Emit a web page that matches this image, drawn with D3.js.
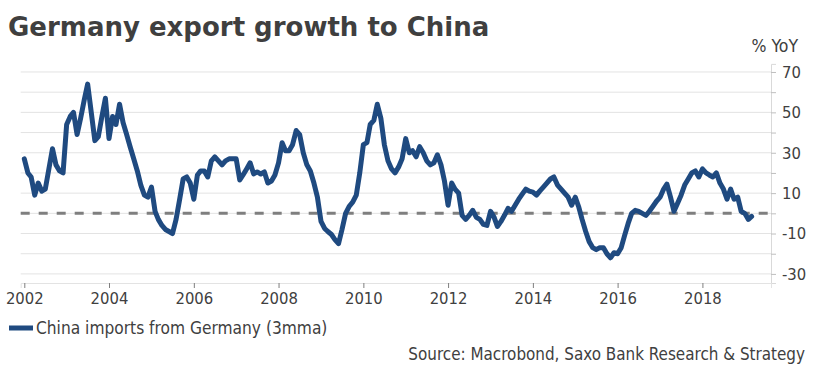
<!DOCTYPE html>
<html>
<head>
<meta charset="utf-8">
<script src="https://cdn.jsdelivr.net/npm/d3@7"></script>
<style>
  html, body { margin: 0; padding: 0; background: #fff; }
  svg { display: block; }
  .lbl { font-family: 'DejaVu Sans Condensed', 'DejaVu Sans', sans-serif; font-stretch: condensed; }
</style>
</head>
<body>
<div id="chart-container"></div>
<script>
// Monthly readings, Jan 2002 .. Mar 2019

const months = [
  '2002-01', '2002-02', '2002-03', '2002-04', '2002-05', '2002-06', '2002-07', '2002-08', '2002-09', '2002-10', '2002-11', '2002-12',
  '2003-01', '2003-02', '2003-03', '2003-04', '2003-05', '2003-06', '2003-07', '2003-08', '2003-09', '2003-10', '2003-11', '2003-12',
  '2004-01', '2004-02', '2004-03', '2004-04', '2004-05', '2004-06', '2004-07', '2004-08', '2004-09', '2004-10', '2004-11', '2004-12',
  '2005-01', '2005-02', '2005-03', '2005-04', '2005-05', '2005-06', '2005-07', '2005-08', '2005-09', '2005-10', '2005-11', '2005-12',
  '2006-01', '2006-02', '2006-03', '2006-04', '2006-05', '2006-06', '2006-07', '2006-08', '2006-09', '2006-10', '2006-11', '2006-12',
  '2007-01', '2007-02', '2007-03', '2007-04', '2007-05', '2007-06', '2007-07', '2007-08', '2007-09', '2007-10', '2007-11', '2007-12',
  '2008-01', '2008-02', '2008-03', '2008-04', '2008-05', '2008-06', '2008-07', '2008-08', '2008-09', '2008-10', '2008-11', '2008-12',
  '2009-01', '2009-02', '2009-03', '2009-04', '2009-05', '2009-06', '2009-07', '2009-08', '2009-09', '2009-10', '2009-11', '2009-12',
  '2010-01', '2010-02', '2010-03', '2010-04', '2010-05', '2010-06', '2010-07', '2010-08', '2010-09', '2010-10', '2010-11', '2010-12',
  '2011-01', '2011-02', '2011-03', '2011-04', '2011-05', '2011-06', '2011-07', '2011-08', '2011-09', '2011-10', '2011-11', '2011-12',
  '2012-01', '2012-02', '2012-03', '2012-04', '2012-05', '2012-06', '2012-07', '2012-08', '2012-09', '2012-10', '2012-11', '2012-12',
  '2013-01', '2013-02', '2013-03', '2013-04', '2013-05', '2013-06', '2013-07', '2013-08', '2013-09', '2013-10', '2013-11', '2013-12',
  '2014-01', '2014-02', '2014-03', '2014-04', '2014-05', '2014-06', '2014-07', '2014-08', '2014-09', '2014-10', '2014-11', '2014-12',
  '2015-01', '2015-02', '2015-03', '2015-04', '2015-05', '2015-06', '2015-07', '2015-08', '2015-09', '2015-10', '2015-11', '2015-12',
  '2016-01', '2016-02', '2016-03', '2016-04', '2016-05', '2016-06', '2016-07', '2016-08', '2016-09', '2016-10', '2016-11', '2016-12',
  '2017-01', '2017-02', '2017-03', '2017-04', '2017-05', '2017-06', '2017-07', '2017-08', '2017-09', '2017-10', '2017-11', '2017-12',
  '2018-01', '2018-02', '2018-03', '2018-04', '2018-05', '2018-06', '2018-07', '2018-08', '2018-09', '2018-10', '2018-11', '2018-12',
  '2019-01', '2019-02', '2019-03',
]

const importsGrowth = [
  27, 20, 18, 9, 15, 11, 12, 22, 32, 24, 21, 20,
  44, 48, 50, 39, 47, 56, 64, 50, 36, 38, 48, 57,
  37, 48, 44, 54, 45, 39, 33, 27, 21, 14, 9, 8,
  13, 1, -3, -6, -8, -9, -10, -3, 7, 17, 18, 15,
  7, 19, 21, 21, 18, 26, 28, 26, 24, 26, 27, 27,
  27, 16.5, 19, 22, 25, 19.5, 20.5, 19.5, 20.5, 15, 16, 19,
  25, 35, 31, 31, 34, 41, 39, 30, 24, 21, 15, 8,
  -4, -7.5, -9, -10.5, -13, -15, -8, 0, 3.5, 5.5, 9, 20,
  34, 35, 44, 46, 54, 47, 34, 26, 22, 20, 23, 27,
  37, 30, 31, 28, 33, 30, 26, 24, 25, 29, 24, 16,
  4, 15, 12, 10, -1, -3, -1, 1.5, -2, -3, -5.5, -6,
  1, -2, -6.5, -4, -1, 2.5, 1, 4, 7, 9.5, 12, 11,
  10.5, 9, 11, 13, 15, 17, 18, 14, 12, 10, 8, 4,
  8, 3, -3, -9, -14, -17, -18, -17, -17, -20, -22, -19.5,
  -20, -17, -11, -5, 0, 1.5, 1, 0, -1, 1, 3.5, 6,
  8, 12, 14.5, 8, 1, 5, 9, 14, 17, 20, 21, 18,
  22, 20, 19, 18, 20, 15, 12, 7, 12, 7, 8, 1,
  0, -3, -1.5,
]

const yTicks = [-30, -20, -10, 0, 10, 20, 30, 40, 50, 60, 70]
const yLabels = [-30, -10, 10, 30, 50, 70]
const xTickYears = [2002, 2004, 2006, 2008, 2010, 2012, 2014, 2016, 2018]

const titleText = 'Germany export growth to China'
const unitText = '% YoY'
const seriesName = 'China imports from Germany (3mma)'
const sourceText = 'Source: Macrobond, Saxo Bank Research & Strategy'

// Dimensions

const W = 816
const H = 374
const plot = { left: 20.7, right: 771, top: 63.9, bottom: 283 }

const dataset = months.map((m, i) => ({
  date: d3.timeParse('%Y-%m')(m),
  value: importsGrowth[i],
}))

// Scales

const x = d3
  .scaleTime()
  .domain([new Date(2001, 11, 1), new Date(2019, 7, 15)])
  .range([plot.left, plot.right])

const y = d3.scaleLinear().domain([-34.5, 74]).range([plot.bottom, plot.top])

const svg = d3
  .select('#chart-container')
  .append('svg')
  .attr('width', W)
  .attr('height', H)

// Title

svg
  .append('text')
  .attr('x', 8)
  .attr('y', 36)
  .attr('font-family', "'DejaVu Sans', sans-serif")
  .attr('font-weight', 'bold')
  .attr('font-size', 26)
  .attr('fill', '#3f3f3f')
  .text(titleText)

// Grid lines

svg
  .append('g')
  .selectAll('line')
  .data(yTicks)
  .enter()
  .append('line')
  .attr('x1', plot.left)
  .attr('x2', plot.right)
  .attr('y1', (d) => y(d))
  .attr('y2', (d) => y(d))
  .attr('stroke', '#e3e3e3')
  .attr('stroke-width', 1)

// Right y-axis

const yAxis = svg
  .append('g')
  .attr('transform', `translate(${plot.right},0)`)
  .call(
    d3
      .axisRight(y)
      .tickValues(yTicks)
      .tickSize(5)
      .tickFormat((d) => (yLabels.includes(d) ? d : ''))
  )
yAxis.select('.domain').attr('stroke', '#d9d9d9')
yAxis.selectAll('.tick line').attr('stroke', '#bfbfbf')
yAxis
  .selectAll('.tick text')
  .attr('class', 'lbl')
  .attr('x', 11)
  .attr('font-size', 16.5)
  .attr('fill', '#404040')

svg
  .append('text')
  .attr('class', 'lbl')
  .attr('x', 798)
  .attr('y', 52)
  .attr('text-anchor', 'end')
  .attr('font-size', 17.5)
  .attr('fill', '#404040')
  .text(unitText)

// Bottom x-axis

const xAxis = svg
  .append('g')
  .attr('transform', `translate(0,${plot.bottom})`)
  .call(
    d3
      .axisBottom(x)
      .tickValues(xTickYears.map((yr) => new Date(yr, 0, 1)))
      .tickSize(5)
      .tickFormat(d3.timeFormat('%Y'))
  )
xAxis.select('.domain').attr('stroke', '#e3e3e3')
xAxis.selectAll('.tick line').attr('stroke', '#7f7f7f')
xAxis
  .selectAll('.tick text')
  .attr('class', 'lbl')
  .attr('y', 9)
  .attr('font-size', 16.5)
  .attr('fill', '#404040')

// Zero line

svg
  .append('line')
  .attr('x1', plot.left)
  .attr('x2', plot.right)
  .attr('y1', y(0))
  .attr('y2', y(0))
  .attr('stroke', '#7f7f7f')
  .attr('stroke-width', 3)
  .attr('stroke-dasharray', '9,9')

// Series line

const line = d3
  .line()
  .x((d) => x(d.date))
  .y((d) => y(d.value))

svg
  .append('path')
  .datum(dataset)
  .attr('fill', 'none')
  .attr('stroke', '#1f4a80')
  .attr('stroke-width', 5)
  .attr('stroke-linejoin', 'round')
  .attr('stroke-linecap', 'round')
  .attr('d', line)

// Legend

svg
  .append('rect')
  .attr('x', 9)
  .attr('y', 325.5)
  .attr('width', 24)
  .attr('height', 5)
  .attr('fill', '#1f4a80')

svg
  .append('text')
  .attr('class', 'lbl')
  .attr('x', 36)
  .attr('y', 333.5)
  .attr('font-size', 17.2)
  .attr('fill', '#404040')
  .text(seriesName)

// Source

svg
  .append('text')
  .attr('class', 'lbl')
  .attr('x', 805)
  .attr('y', 360)
  .attr('text-anchor', 'end')
  .attr('font-size', 16.9)
  .attr('fill', '#404040')
  .text(sourceText)
</script>
</body>
</html>
